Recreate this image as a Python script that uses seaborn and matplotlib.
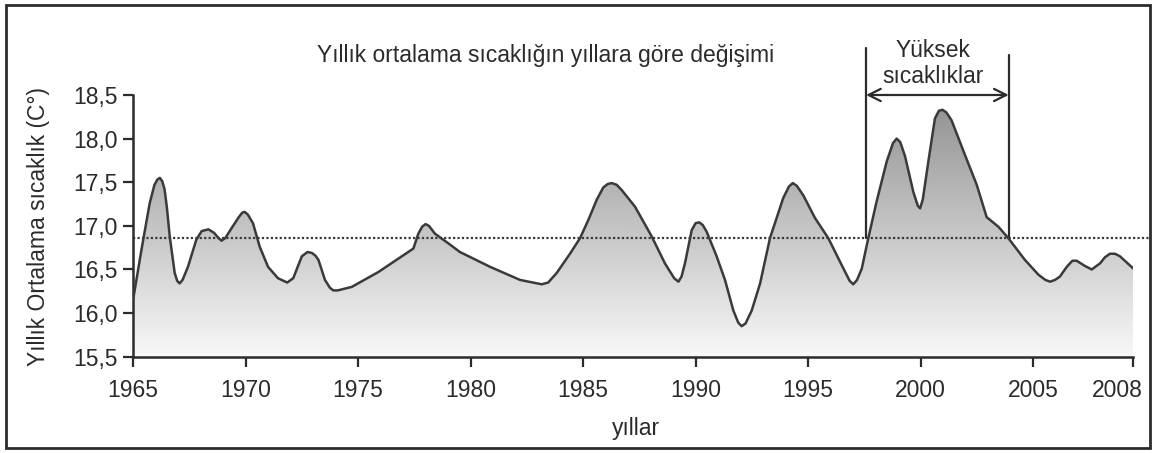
import numpy as np
import pandas as pd
import matplotlib
matplotlib.use("Agg")
import matplotlib.pyplot as plt
import seaborn as sns
from matplotlib.patches import Rectangle
from matplotlib.transforms import ScaledTranslation

# yıllık ortalama sıcaklık
years = [1965.00, 1965.37, 1965.74, 1965.95, 1966.08, 1966.19, 1966.30, 1966.40,
         1966.50, 1966.63, 1966.85, 1966.96, 1967.07, 1967.20, 1967.44, 1967.81,
         1968.05, 1968.35, 1968.60, 1968.80, 1968.93, 1969.10, 1969.37, 1969.70,
         1969.85, 1969.96, 1970.10, 1970.33, 1970.63, 1971.00, 1971.44, 1971.85,
         1972.12, 1972.50, 1972.75, 1972.94, 1973.10, 1973.24, 1973.53, 1973.75,
         1973.90, 1974.10, 1974.72, 1975.90, 1976.94, 1977.46, 1977.68, 1977.85,
         1978.00, 1978.15, 1978.42, 1979.01, 1979.53, 1980.87, 1982.20, 1983.16,
         1983.45, 1983.83, 1984.42, 1984.87, 1985.24, 1985.61, 1985.90, 1986.10,
         1986.28, 1986.50, 1986.72, 1987.31, 1988.05, 1988.64, 1989.05, 1989.24,
         1989.38, 1989.53, 1989.83, 1990.00, 1990.16, 1990.32, 1990.50, 1990.94,
         1991.31, 1991.68, 1991.90, 1992.05, 1992.22, 1992.50, 1992.87, 1993.31,
         1993.90, 1994.15, 1994.32, 1994.50, 1994.79, 1995.31, 1995.90, 1996.42,
         1996.85, 1997.01, 1997.18, 1997.39, 1997.68, 1998.05, 1998.50, 1998.78,
         1998.94, 1999.10, 1999.31, 1999.68, 1999.88, 1999.98, 2000.10, 2000.35,
         2000.64, 2000.82, 2000.98, 2001.15, 2001.38, 2001.98, 2002.50, 2002.94,
         2003.46, 2003.90, 2004.64, 2005.24, 2005.55, 2005.76, 2005.98, 2006.20,
         2006.50, 2006.75, 2006.94, 2007.31, 2007.61, 2007.98, 2008.20, 2008.42,
         2008.65, 2008.87, 2009.46]
temps = [16.15, 16.72, 17.26, 17.47, 17.53, 17.55, 17.51, 17.42,
         17.22, 16.88, 16.46, 16.37, 16.34, 16.38, 16.53, 16.84,
         16.94, 16.96, 16.92, 16.86, 16.83, 16.86, 16.97, 17.10,
         17.15, 17.16, 17.13, 17.03, 16.76, 16.53, 16.40, 16.35,
         16.40, 16.65, 16.70, 16.69, 16.66, 16.61, 16.38, 16.29,
         16.26, 16.26, 16.30, 16.47, 16.65, 16.74, 16.91, 16.99,
         17.02, 17.00, 16.91, 16.80, 16.70, 16.53, 16.38, 16.33,
         16.35, 16.46, 16.68, 16.86, 17.07, 17.30, 17.44, 17.48,
         17.49, 17.47, 17.41, 17.22, 16.88, 16.57, 16.40, 16.36,
         16.42, 16.57, 16.95, 17.03, 17.04, 17.01, 16.93, 16.65,
         16.38, 16.03, 15.89, 15.85, 15.88, 16.03, 16.34, 16.86,
         17.32, 17.45, 17.49, 17.46, 17.35, 17.09, 16.86, 16.59,
         16.37, 16.33, 16.38, 16.51, 16.86, 17.28, 17.74, 17.95,
         18.00, 17.96, 17.80, 17.39, 17.23, 17.20, 17.30, 17.74,
         18.23, 18.32, 18.33, 18.30, 18.21, 17.81, 17.47, 17.10,
         16.99, 16.86, 16.61, 16.44, 16.38, 16.36, 16.38, 16.42,
         16.53, 16.60, 16.60, 16.54, 16.50, 16.57, 16.64, 16.68,
         16.68, 16.65, 16.51]

mean_temp = 16.86
band_start, band_end = 1997.58, 2003.92

x_ticks = [1965, 1970, 1975, 1980, 1985, 1990, 1995, 2000, 2005, 2009.46]
x_labels = ["1965", "1970", "1975", "1980", "1985", "1990", "1995", "2000", "2005", "2008"]
y_ticks = [15.5, 16.0, 16.5, 17.0, 17.5, 18.0, 18.5]
y_labels = ["15,5", "16,0", "16,5", "17,0", "17,5", "18,0", "18,5"]

df = pd.DataFrame({"yil": years, "sicaklik": temps})

sns.set_theme(style="ticks")
plt.rcParams["font.family"] = ["Liberation Sans", "DejaVu Sans"]
ink = "#2b2b2b"
fs = 16.5

fig = plt.figure(figsize=(11.56, 4.53), dpi=100)
ax = fig.add_axes([0.1151, 0.2126, 0.8653, 0.5777])

# gri degrade dolgu
poly = ax.fill_between(df["yil"], df["sicaklik"], 15.5, facecolor="none", edgecolor="none")
shade = np.linspace(0.97, 0.57, 256)[:, None]
img = ax.imshow(shade, cmap="gray", vmin=0, vmax=1, aspect="auto", origin="lower",
                extent=[1965, 2009.46, 15.5, 18.45], zorder=1)
img.set_clip_path(poly.get_paths()[0], transform=ax.transData)

sns.lineplot(data=df, x="yil", y="sicaklik", ax=ax, color="#3a3a3a", lw=1.8,
             sort=False, zorder=3)
ax.lines[-1].set_solid_joinstyle("round")

ax.axhline(mean_temp, xmin=0, xmax=1.017, color="#3a3a3a", lw=1.6,
           linestyle=(0, (1, 1)), clip_on=False, zorder=2)

ax.set_xlim(1965, 2009.46)
ax.set_ylim(15.5, 18.5)
ax.set_xticks(x_ticks)
ax.set_xticklabels(x_labels)
ax.set_yticks(y_ticks)
ax.set_yticklabels(y_labels)
ax.set_xlabel("")
ax.set_ylabel("")
ax.tick_params(axis="both", colors=ink, labelsize=fs, width=1.6, length=7, direction="out")
ax.tick_params(axis="x", pad=9)
ax.tick_params(axis="y", pad=4)
# son etiket (2008) biraz sola kaymis
last = ax.get_xticklabels()[-1]
last.set_transform(last.get_transform() + ScaledTranslation(-16 / 100, 0, fig.dpi_scale_trans))
for s in ["top", "right"]:
    ax.spines[s].set_visible(False)
for s in ["left", "bottom"]:
    ax.spines[s].set_color(ink)
    ax.spines[s].set_linewidth(1.8)
ax.set_facecolor("white")

# yüksek sıcaklıklar aralığı
ax.plot([band_start, band_start], [mean_temp, 19.04], color=ink, lw=1.6, clip_on=False)
ax.plot([band_end, band_end], [mean_temp, 18.96], color=ink, lw=1.6, clip_on=False)
ax.annotate("", xy=(band_end, 18.5), xytext=(band_start, 18.5), annotation_clip=False,
            arrowprops=dict(arrowstyle="<->", lw=1.6, color=ink, mutation_scale=22,
                            shrinkA=0, shrinkB=0))
ax.text((band_start + band_end) / 2 - 0.2, 18.86, "Yüksek\nsıcaklıklar", ha="center", va="center",
        fontsize=fs, color=ink, linespacing=1.2, clip_on=False)

fig.text(0.472, 0.878, "Yıllık ortalama sıcaklığın yıllara göre değişimi", ha="center",
         va="center", fontsize=fs, color=ink)
fig.text(0.033, 0.50, "Yıllık Ortalama sıcaklık (C°)", rotation=90, ha="center", va="center",
         fontsize=fs, color=ink)
fig.text(0.55, 0.055, "yıllar", ha="center", va="center", fontsize=fs, color=ink)

fig.patches.append(Rectangle((0.005, 0.012), 0.99, 0.976, transform=fig.transFigure,
                             fill=False, edgecolor=ink, lw=2))

fig.savefig("out.png", dpi=100)
